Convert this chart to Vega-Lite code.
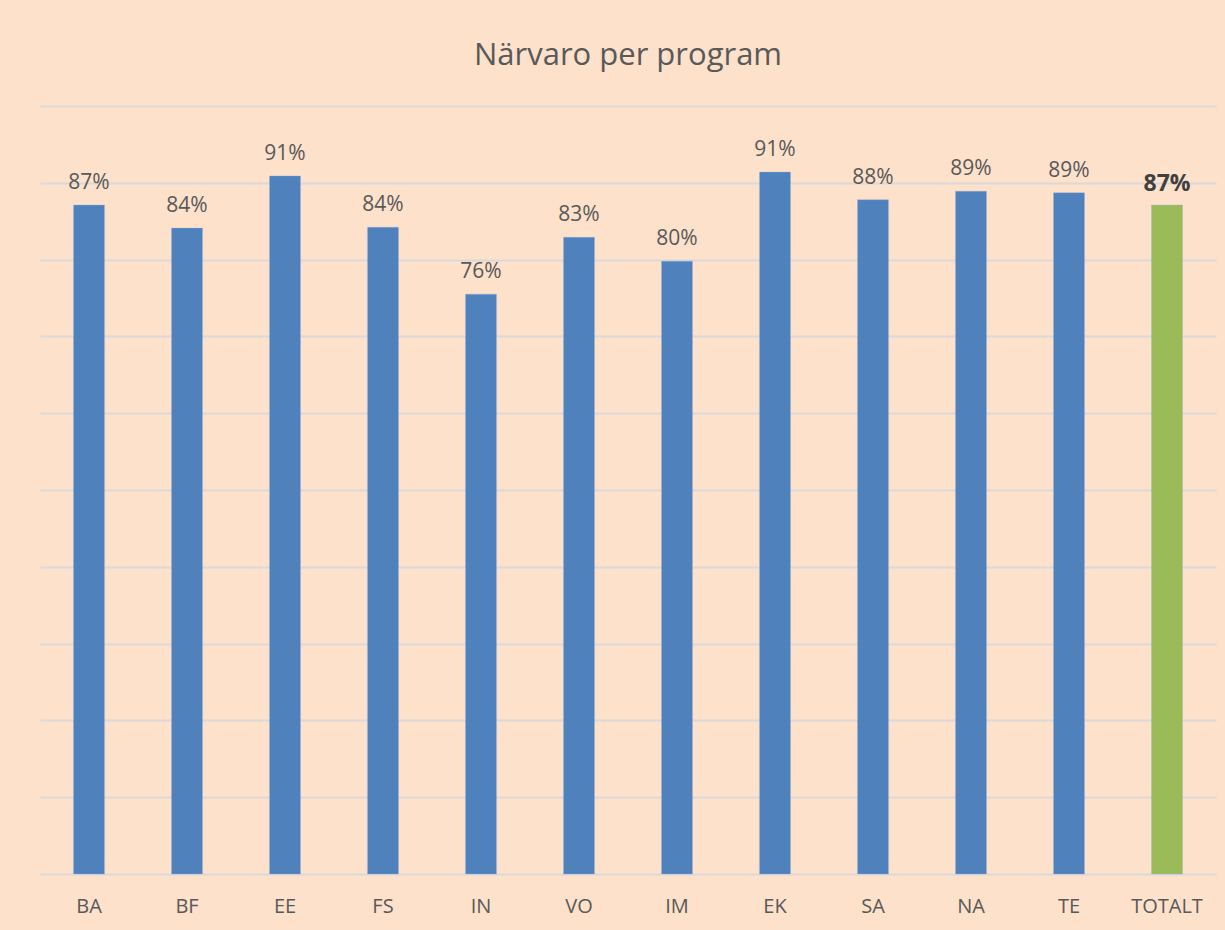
{
  "$schema": "https://vega.github.io/schema/vega-lite/v6.json",
  "autosize": "none",
  "width": 1176,
  "height": 768,
  "padding": {"top": 106, "left": 40, "right": 9, "bottom": 56},
  "background": "#FDE1CB",
  "title": {
    "text": "Närvaro per program",
    "font": "Open Sans",
    "fontSize": 31,
    "fontWeight": "normal",
    "color": "#595959",
    "anchor": "middle",
    "offset": 34
  },
  "data": {
    "values": [
      {"program": "BA", "narvaro": 0.871},
      {"program": "BF", "narvaro": 0.841},
      {"program": "EE", "narvaro": 0.909},
      {"program": "FS", "narvaro": 0.842},
      {"program": "IN", "narvaro": 0.755},
      {"program": "VO", "narvaro": 0.829},
      {"program": "IM", "narvaro": 0.798},
      {"program": "EK", "narvaro": 0.914},
      {"program": "SA", "narvaro": 0.878},
      {"program": "NA", "narvaro": 0.889},
      {"program": "TE", "narvaro": 0.887},
      {"program": "TOTALT", "narvaro": 0.871}
    ]
  },
  "config": {
    "view": {"stroke": null},
    "font": "Open Sans"
  },
  "encoding": {
    "x": {
      "field": "program",
      "type": "nominal",
      "sort": null,
      "scale": {"paddingInner": 0.684, "paddingOuter": 0.342},
      "axis": {
        "title": null,
        "labelAngle": 0,
        "domain": false,
        "ticks": false,
        "labelFont": "Open Sans",
        "labelFontSize": 20,
        "labelColor": "#595959",
        "labelPadding": 22
      }
    },
    "y": {
      "field": "narvaro",
      "type": "quantitative",
      "scale": {"domain": [0, 1], "nice": false},
      "axis": {
        "title": null,
        "labels": false,
        "ticks": false,
        "domain": false,
        "grid": true,
        "gridColor": "#D9D9D9",
        "gridWidth": 2,
        "values": [0, 0.1, 0.2, 0.3, 0.4, 0.5, 0.6, 0.7, 0.8, 0.9, 1.0]
      }
    }
  },
  "layer": [
    {
      "mark": {"type": "bar", "stroke": "#8FB0DA", "strokeWidth": 0.6, "strokeOpacity": 0.6},
      "encoding": {
        "color": {
          "condition": {"test": "datum.program === 'TOTALT'", "value": "#9BBB59"},
          "value": "#4F81BD"
        }
      }
    },
    {
      "transform": [{"filter": "datum.program !== 'TOTALT'"}],
      "mark": {"type": "text", "dy": -16, "baseline": "alphabetic", "fontSize": 21, "color": "#595959", "font": "Open Sans"},
      "encoding": {
        "text": {"field": "narvaro", "type": "quantitative", "format": ".0%"}
      }
    },
    {
      "transform": [{"filter": "datum.program === 'TOTALT'"}],
      "mark": {"type": "text", "dy": -14, "baseline": "alphabetic", "fontSize": 23, "fontWeight": "bold", "color": "#404040", "font": "Open Sans"},
      "encoding": {
        "text": {"field": "narvaro", "type": "quantitative", "format": ".0%"}
      }
    }
  ]
}
